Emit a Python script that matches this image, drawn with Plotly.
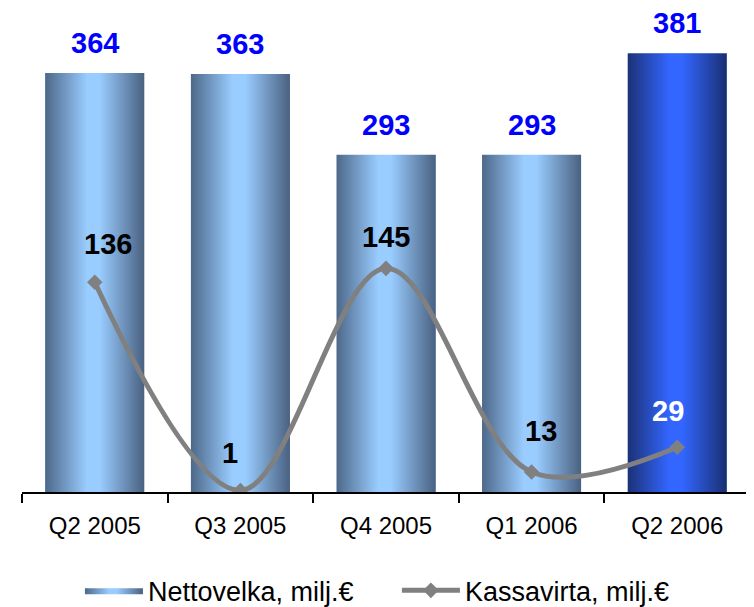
import plotly.graph_objects as go

categories = ["Q2 2005", "Q3 2005", "Q4 2005", "Q1 2006", "Q2 2006"]
nettovelka = [364, 363, 293, 293, 381]
kassavirta = [136, 1, 145, 13, 29]

bar_name = "Nettovelka, milj.€"
line_name = "Kassavirta, milj.€"

# styles
half_w = 0.34
grad_normal = [[0, "#4d6889"], [0.42, "#99ccff"], [0.55, "#99ccff"], [1, "#4a6181"]]
grad_last = [[0, "#1b3177"], [0.42, "#3366ff"], [0.55, "#3366ff"], [1, "#1a2f72"]]
line_label_offsets = [(13, 38), (-10, 37), (0, 31), (9, 41), (-9, 36)]
line_label_colors = ["black", "black", "black", "black", "white"]
FONT = "Liberation Sans, Arial, sans-serif"

fig = go.Figure()
xs = list(range(len(categories)))

# base bars (flat colour, covered by gradient fills)
fig.add_trace(go.Bar(x=xs, y=nettovelka, width=2 * half_w, marker=dict(color="#7fa6cf", line=dict(width=0)),
                     showlegend=False, hoverinfo="skip"))

for i, v in enumerate(nettovelka):
    px = [i - half_w, i + half_w, i + half_w, i - half_w, i - half_w]
    py = [0, 0, v, v, 0]
    fig.add_trace(go.Scatter(
        x=px, y=py, mode="lines", fill="toself",
        line=dict(width=0, color="rgba(0,0,0,0)"),
        fillgradient=dict(type="horizontal", colorscale=grad_last if i == len(nettovelka) - 1 else grad_normal),
        name=bar_name, showlegend=(i == 0), hoverinfo="skip"))

fig.add_trace(go.Scatter(
    x=xs, y=kassavirta, yaxis="y2", mode="lines+markers", name=line_name,
    line=dict(color="#808080", width=5, shape="spline", smoothing=1.0),
    marker=dict(symbol="diamond", size=12, color="#808080")))

annotations = []
for i, v in enumerate(nettovelka):
    annotations.append(dict(x=i, y=v, xref="x", yref="y", text=f"<b>{v}</b>", showarrow=False,
                            yshift=30, font=dict(family=FONT, size=29, color="#0000ff")))
for i, v in enumerate(kassavirta):
    dx, dy = line_label_offsets[i]
    annotations.append(dict(x=i, y=v, xref="x", yref="y2", text=f"<b>{v}</b>", showarrow=False,
                            xshift=dx, yshift=dy, font=dict(family=FONT, size=29, color=line_label_colors[i])))

fig.update_layout(
    width=754, height=607,
    margin=dict(l=14, r=12, t=2, b=123, autoexpand=False),
    paper_bgcolor="white", plot_bgcolor="white",
    font=dict(family=FONT, color="black"),
    bargap=0,
    xaxis=dict(range=[-0.5, 4.5], tickvals=xs, ticktext=categories, ticks="", showline=True,
               linecolor="black", linewidth=1.5, showgrid=False, zeroline=False,
               tickfont=dict(size=24, family=FONT, color="black"), ticklabelstandoff=11,
               minor=dict(tick0=-0.5, dtick=1, ticks="outside", ticklen=9, tickcolor="black", tickwidth=1.5,
                          showgrid=False)),
    yaxis=dict(range=[0, 418.7], visible=False, showgrid=False, zeroline=False),
    yaxis2=dict(range=[0, 312.5], overlaying="y", visible=False, showgrid=False, zeroline=False),
    legend=dict(orientation="h", x=0.515, xanchor="center", y=-0.205, yanchor="middle",
                font=dict(size=27, family=FONT, color="black"), itemwidth=58,
                entrywidth=244, entrywidthmode="pixels"),
    annotations=annotations,
    showlegend=True,
)

fig.write_html("out.html")
